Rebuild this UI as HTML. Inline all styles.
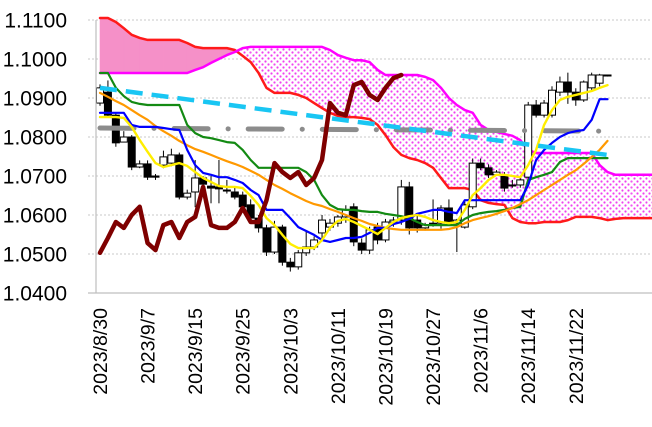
<!DOCTYPE html>
<html><head><meta charset="utf-8">
<style>
html,body{margin:0;padding:0;background:#fff;}
svg{display:block;font-family:"Liberation Sans",Arial,sans-serif;}
</style></head>
<body>
<svg id="chart" width="652" height="427" viewBox="0 0 652 427" xmlns="http://www.w3.org/2000/svg">
<defs>
<pattern id="dots" width="6" height="6" patternUnits="userSpaceOnUse">
<rect width="6" height="6" fill="#fff"/>
<circle cx="1.5" cy="1.5" r="1.1" fill="#f040f0"/>
<circle cx="4.5" cy="4.5" r="1.1" fill="#f040f0"/>
</pattern>
</defs>
<g id="grid"></g>
<g id="cloud"></g>
<g id="candles"></g>
<g id="lines"></g>
<g id="axes"></g>
</svg>
<script>
const dateLabels = ['2023/8/30','2023/9/7','2023/9/15','2023/9/25','2023/10/3','2023/10/11','2023/10/19','2023/10/27','2023/11/6','2023/11/14','2023/11/22'];
const yTicks = [1.04,1.05,1.06,1.07,1.08,1.09,1.10,1.11];
const opens = [1.0887,1.0915,1.0856,1.0787,1.0800,1.0723,1.0731,1.0700,1.0728,1.0733,1.0754,1.0646,1.0659,1.0695,1.0674,1.0672,1.0664,1.0659,1.0651,1.0626,1.0592,1.0567,1.0505,1.0569,1.0479,1.0467,1.0503,1.0518,1.0554,1.0569,1.0579,1.0595,1.0621,1.0528,1.0510,1.0569,1.0536,1.0582,1.0587,1.0672,1.0587,1.0567,1.0579,1.0579,1.0618,1.0579,1.0569,1.0621,1.0733,1.0721,1.0703,1.0703,1.0677,1.0677,1.0697,1.0882,1.0856,1.0856,1.0915,1.0941,1.0915,1.0895,1.0926,1.0938,1.0959];
const closes = [1.0926,1.0856,1.0785,1.0800,1.0723,1.0731,1.0697,1.0697,1.0749,1.0754,1.0646,1.0656,1.0695,1.0679,1.0669,1.0667,1.0662,1.0646,1.0621,1.0592,1.0567,1.0505,1.0569,1.0479,1.0467,1.0503,1.0518,1.0536,1.0587,1.0579,1.0595,1.0613,1.0531,1.0510,1.0562,1.0536,1.0582,1.0587,1.0672,1.0567,1.0567,1.0574,1.0579,1.0618,1.0582,1.0587,1.0626,1.0733,1.0721,1.0703,1.0710,1.0669,1.0677,1.0690,1.0882,1.0856,1.0887,1.0920,1.0941,1.0915,1.0895,1.0941,1.0959,1.0959,1.0959];
const highs = [1.0935,1.0945,1.0862,1.0815,1.0805,1.0740,1.0740,1.0705,1.0765,1.0770,1.0760,1.0665,1.0741,1.0700,1.0700,1.0741,1.0690,1.0670,1.0660,1.0640,1.0600,1.0575,1.0585,1.0575,1.0490,1.0510,1.0560,1.0545,1.0600,1.0590,1.0600,1.0625,1.0630,1.0540,1.0570,1.0580,1.0590,1.0595,1.0690,1.0685,1.0600,1.0580,1.0640,1.0625,1.0640,1.0590,1.0635,1.0745,1.0745,1.0730,1.0715,1.0710,1.0690,1.0700,1.0890,1.0895,1.0895,1.0930,1.0955,1.0965,1.0925,1.0945,1.0965,1.0962,1.0960];
const lows = [1.0880,1.0850,1.0775,1.0790,1.0715,1.0720,1.0690,1.0690,1.0720,1.0725,1.0640,1.0640,1.0620,1.0670,1.0630,1.0630,1.0655,1.0640,1.0610,1.0585,1.0555,1.0495,1.0500,1.0470,1.0455,1.0460,1.0495,1.0510,1.0540,1.0560,1.0570,1.0580,1.0520,1.0500,1.0500,1.0525,1.0530,1.0570,1.0575,1.0550,1.0555,1.0560,1.0570,1.0565,1.0575,1.0505,1.0565,1.0615,1.0715,1.0695,1.0700,1.0660,1.0670,1.0670,1.0690,1.0850,1.0850,1.0850,1.0905,1.0885,1.0880,1.0890,1.0920,1.0930,1.0955];
const tenkan = [1.0862,1.0862,1.0862,1.0862,1.0831,1.0826,1.0826,1.0826,1.0823,1.0820,1.0818,1.0767,1.0728,1.0708,1.0703,1.0697,1.0697,1.0690,1.0682,1.0664,1.0651,1.0613,1.0613,1.0613,1.0592,1.0569,1.0559,1.0549,1.0536,1.0531,1.0536,1.0541,1.0541,1.0544,1.0554,1.0567,1.0567,1.0577,1.0582,1.0590,1.0603,1.0608,1.0613,1.0613,1.0608,1.0605,1.0638,1.0638,1.0638,1.0638,1.0638,1.0638,1.0638,1.0638,1.0677,1.0741,1.0767,1.0785,1.0800,1.0810,1.0815,1.0818,1.0844,1.0897,1.0897];
const kijun = [1.0964,1.0964,1.0926,1.0905,1.0890,1.0885,1.0882,1.0882,1.0882,1.0882,1.0882,1.0831,1.0810,1.0800,1.0797,1.0792,1.0787,1.0785,1.0767,1.0741,1.0721,1.0721,1.0721,1.0721,1.0721,1.0721,1.0710,1.0690,1.0651,1.0626,1.0615,1.0613,1.0613,1.0610,1.0608,1.0608,1.0603,1.0600,1.0597,1.0592,1.0582,1.0574,1.0574,1.0574,1.0574,1.0574,1.0590,1.0600,1.0605,1.0608,1.0610,1.0613,1.0618,1.0621,1.0690,1.0697,1.0703,1.0710,1.0736,1.0746,1.0746,1.0746,1.0746,1.0746,1.0746];
const smaShort = [1.0851,1.0851,1.0851,1.0849,1.0826,1.0792,1.0762,1.0733,1.0723,1.0728,1.0733,1.0726,1.0710,1.0695,1.0685,1.0674,1.0672,1.0672,1.0669,1.0649,1.0626,1.0592,1.0574,1.0549,1.0526,1.0515,1.0515,1.0515,1.0536,1.0567,1.0585,1.0590,1.0582,1.0572,1.0562,1.0551,1.0567,1.0582,1.0592,1.0597,1.0600,1.0595,1.0587,1.0582,1.0579,1.0582,1.0613,1.0651,1.0669,1.0690,1.0703,1.0703,1.0700,1.0697,1.0728,1.0767,1.0831,1.0869,1.0895,1.0903,1.0908,1.0913,1.0918,1.0926,1.0933];
const smaLong = [1.0913,1.0903,1.0892,1.0882,1.0869,1.0856,1.0844,1.0828,1.0815,1.0803,1.0790,1.0779,1.0769,1.0762,1.0754,1.0746,1.0738,1.0731,1.0723,1.0713,1.0703,1.0690,1.0677,1.0667,1.0656,1.0646,1.0636,1.0628,1.0623,1.0615,1.0608,1.0600,1.0592,1.0585,1.0577,1.0572,1.0567,1.0564,1.0562,1.0562,1.0562,1.0562,1.0562,1.0562,1.0564,1.0569,1.0579,1.0587,1.0592,1.0597,1.0603,1.0610,1.0618,1.0628,1.0638,1.0651,1.0664,1.0677,1.0690,1.0703,1.0715,1.0731,1.0749,1.0767,1.0790];
const chikou = [1.0503,1.0541,1.0582,1.0567,1.0600,1.0621,1.0528,1.0510,1.0574,1.0582,1.0541,1.0582,1.0595,1.0672,1.0574,1.0567,1.0567,1.0582,1.0618,1.0582,1.0582,1.0638,1.0733,1.0710,1.0695,1.0710,1.0677,1.0695,1.0741,1.0887,1.0862,1.0856,1.0933,1.0941,1.0908,1.0895,1.0926,1.0951,1.0959];
const spanA = [1.1105,1.1105,1.1095,1.1079,1.1062,1.1054,1.1049,1.1049,1.1049,1.1049,1.1049,1.1041,1.1031,1.1028,1.1028,1.1028,1.1028,1.1023,1.1008,1.0992,1.0964,1.0926,1.0913,1.0913,1.0913,1.0908,1.0900,1.0887,1.0874,1.0862,1.0854,1.0851,1.0851,1.0849,1.0846,1.0831,1.0805,1.0774,1.0754,1.0746,1.0741,1.0733,1.0721,1.0695,1.0669,1.0669,1.0669,1.0664,1.0638,1.0631,1.0628,1.0626,1.0592,1.0582,1.0579,1.0579,1.0582,1.0582,1.0582,1.0587,1.0595,1.0595,1.0595,1.0592,1.0587,1.0590,1.0592,1.0592,1.0592,1.0592,1.0592];
const spanB = [1.0964,1.0964,1.0964,1.0964,1.0964,1.0964,1.0964,1.0964,1.0964,1.0964,1.0964,1.0964,1.0972,1.0979,1.0990,1.1000,1.1010,1.1018,1.1028,1.1031,1.1031,1.1031,1.1031,1.1031,1.1031,1.1031,1.1031,1.1031,1.1031,1.1023,1.1010,1.1003,1.0997,1.0997,1.0992,1.0972,1.0959,1.0959,1.0959,1.0959,1.0959,1.0954,1.0946,1.0926,1.0900,1.0882,1.0869,1.0862,1.0831,1.0818,1.0813,1.0808,1.0803,1.0792,1.0767,1.0759,1.0759,1.0759,1.0759,1.0759,1.0759,1.0759,1.0759,1.0728,1.0710,1.0703,1.0703,1.0703,1.0703,1.0703,1.0703];
const trendBlue = [1.0926,1.0754];
const trendGray = [1.0823,1.0815];

const NS='http://www.w3.org/2000/svg';
const X0=100, DX=7.93, PLOT_L=96, PLOT_R=652, Y_BOT=293, YMIN=1.04, PX_PER=3900;
function xs(i){return X0+i*DX;}
function ys(v){return Y_BOT-(v-YMIN)*PX_PER;}
function mk(tag,attrs,parent){const e=document.createElementNS(NS,tag);for(const k in attrs)e.setAttribute(k,attrs[k]);parent.appendChild(e);return e;}

const grid=document.getElementById('grid'), axes=document.getElementById('axes');
yTicks.forEach((t,k)=>{
  const y=ys(t);
  if(k>0){const g=mk('line',{x1:88,x2:PLOT_R,y1:y,y2:y,stroke:'#c8c8c8','stroke-width':1,'stroke-dasharray':'2 2'},grid);
  
  }
  const tx=mk('text',{x:67,y:y+7.5,'text-anchor':'end','font-size':21,fill:'#000'},axes);
  tx.textContent=t.toFixed(4);
  
  
});
const ya=mk('line',{x1:PLOT_L,x2:PLOT_L,y1:ys(1.11),y2:Y_BOT,stroke:'#bfbfbf','stroke-width':1.2},axes);


const xa=mk('line',{x1:88,x2:PLOT_R,y1:Y_BOT,y2:Y_BOT,stroke:'#bfbfbf','stroke-width':1.2},axes);


dateLabels.forEach((d,k)=>{
  const x=xs(k*6)+7;
  const tx=mk('text',{x:0,y:0,'text-anchor':'end','font-size':19.5,fill:'#000',transform:`translate(${x},308) rotate(-90)`},axes);
  tx.textContent=d;
  
  
});

// cloud
const cloud=document.getElementById('cloud');
for(let i=0;i<spanA.length-1;i++){
  const a0=ys(spanA[i]),a1=ys(spanA[i+1]),b0=ys(spanB[i]),b1=ys(spanB[i+1]);
  const x0=xs(i),x1=xs(i+1);
  const d0=a0-b0,d1=a1-b1;
  const parts=[];
  if(d0*d1<0){
    const t=d0/(d0-d1), xm=x0+t*(x1-x0), ym=a0+t*(a1-a0);
    parts.push({pts:[[x0,a0],[xm,ym],[x0,b0]],up:d0<0});
    parts.push({pts:[[xm,ym],[x1,a1],[x1,b1]],up:d1<0});
  } else parts.push({pts:[[x0,a0],[x1,a1],[x1,b1],[x0,b0]],up:(d0+d1)<0});
  parts.forEach(p=>{
    const pg=mk('polygon',{points:p.pts.map(q=>q.join(',')).join(' '),fill:p.up?'#f590c8':'url(#dots)',stroke:p.up?'#f590c8':'none','stroke-width':0.6},cloud);
    
    
  });
}
function path(arr,color,w,name,parent,extra){
  const d=arr.map((v,i)=>(i?'L':'M')+xs(i).toFixed(1)+','+ys(v).toFixed(1)).join('');
  const p=mk('path',Object.assign({d:d,fill:'none',stroke:color,'stroke-width':w,'stroke-linejoin':'round','stroke-linecap':'round'},extra||{}),parent);
  
  
  return p;
}
path(spanA,'#ff1a1a',2.5,'senkou-span-a',cloud);
path(spanB,'#ff00ff',2.5,'senkou-span-b',cloud);

// candles
const cg=document.getElementById('candles');
opens.forEach((o,i)=>{
  const c=closes[i],x=xs(i);
  const w=mk('line',{x1:x,x2:x,y1:ys(highs[i]),y2:ys(lows[i]),stroke:'#000','stroke-width':1},cg);
  
  
  const top=ys(Math.max(o,c)),bot=ys(Math.min(o,c));
  const r=mk('rect',{x:x-3.5,y:top,width:7,height:Math.max(1,bot-top),fill:c<o?'#000':'#fff',stroke:'#000','stroke-width':1},cg);
  
  
});

// lines
const lg=document.getElementById('lines');
const tb=mk('line',{x1:xs(0),y1:ys(trendGray[0]),x2:xs(64),y2:ys(trendGray[1]),stroke:'#8c8c8c','stroke-width':5,'stroke-linecap':'round','stroke-dasharray':'34 20 0.1 20'},lg);


path(kijun,'#138a13',2.2,'kijun-sen',lg);
path(smaLong,'#ff9900',2.2,'long-moving-average',lg);
path(tenkan,'#0000ff',2.2,'tenkan-sen',lg);
path(smaShort,'#ffee00',2.4,'short-moving-average',lg);
const bl=mk('line',{x1:xs(0),y1:ys(trendBlue[0]),x2:xs(64),y2:ys(trendBlue[1]),stroke:'#19c6f3','stroke-width':4.5,'stroke-dasharray':'17 9'},lg);


path(chikou,'#7f0000',4.5,'chikou-span',lg);
</script>
</body></html>
